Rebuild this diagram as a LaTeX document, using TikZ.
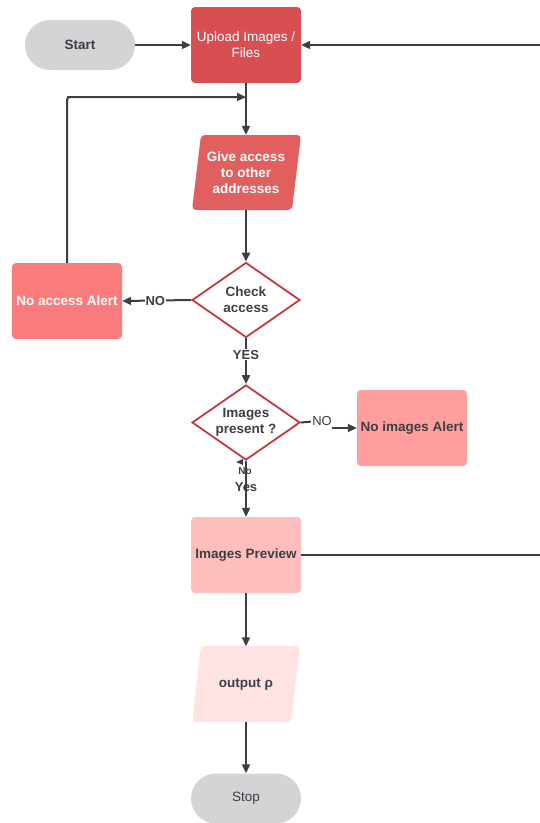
\documentclass[tikz,border=0pt]{standalone}
\usepackage{fontspec}
\setmainfont{Liberation Sans}
\usetikzlibrary{arrows.meta,shapes.geometric}
\definecolor{lnc}{HTML}{3A3E45}
\definecolor{txc}{HTML}{3C3F44}
\definecolor{grayfill}{HTML}{D3D4D6}
\definecolor{upfill}{HTML}{D84F52}
\definecolor{givefill}{HTML}{E25F60}
\definecolor{noaccfill}{HTML}{F97B7B}
\definecolor{noimgfill}{HTML}{FF9E9E}
\definecolor{prevfill}{HTML}{FFBEBE}
\definecolor{outfill}{HTML}{FFE3E3}
\definecolor{diabord}{HTML}{C23A3E}
\tikzset{
  base/.style={font=\fontsize{13.5}{16}\selectfont, align=center, inner sep=2pt},
  bfont/.style={font=\bfseries\fontsize{13.5}{16}\selectfont},
  pill/.style={base, fill=grayfill, rounded corners=25pt, minimum width=110pt, minimum height=50pt, text=txc},
  boxn/.style={base, rounded corners=4pt, minimum width=110pt, minimum height=76pt},
  para/.style={base, minimum width=100pt, minimum height=75pt},
  dia/.style={base, diamond, draw=diabord, line width=1.8pt, fill=white, minimum width=108pt, minimum height=75pt, aspect=1.44, inner sep=0pt, text=txc, bfont},
  conn/.style={draw=lnc, line width=2pt, -{Triangle[length=9pt,width=8pt]}},
  plain/.style={draw=lnc, line width=2pt},
  lbl/.style={font=\bfseries\fontsize{13}{15}\selectfont, text=txc, inner sep=1pt, fill=white},
}
\begin{document}
\begin{tikzpicture}[x=1pt,y=-1pt]
\useasboundingbox (0,0) rectangle (540,823);
% nodes
\node[pill, bfont] (start) at (80,45) {Start};
\node[boxn, fill=upfill, text=white] (upload) at (246,45) {Upload Images /\\Files};
\node[para] (give) at (246,172.5) {};
\fill[givefill, rounded corners=4pt] (201,135) -- (301,135) -- (292,210) -- (192,210) -- cycle;
\node[base, text=white, bfont] at (give) {Give access\\to other\\addresses};
\node[dia] (check) at (246,300) {Check\\access};
\node[boxn, fill=noaccfill, text=white, bfont] (noacc) at (67,301) {No access Alert};
\node[dia] (imgp) at (246,422.5) {Images\\present ?};
\node[boxn, fill=noimgfill, text=txc, bfont] (noimg) at (412,428) {No images Alert};
\node[boxn, fill=prevfill, text=txc, bfont] (prev) at (246,555) {Images Preview};
\node[para] (out) at (246,684) {};
\fill[outfill, rounded corners=4pt] (201,646) -- (300,646) -- (291,722) -- (192,722) -- cycle;
\node[base, text=txc, bfont] at (out) {output ρ};
\node[pill] (stop) at (246,798.5) {Stop};
\coordinate (rtop) at (540,45);
\coordinate (rbot) at (540,555);
\coordinate (loopc) at (246,97);
% connectors
\draw[conn] (start) -- (upload);
\draw[conn] (rtop) -- (upload.east);
\draw[conn] (upload) -- (give.north);
\draw[plain, rounded corners=3pt] (noacc.north) -- (67,97) -- ([xshift=-4pt]loopc);
\draw[conn] (67,97) -- (loopc);
\draw[conn] (give.south) -- (check.north);
\draw[conn] (check.west) -- node[lbl, pos=0.52]{NO} (noacc.east);
\draw[conn] (check.south) -- node[lbl, pos=0.36]{YES} (imgp.north);
\draw[plain] (imgp.east) -- (312,421.5);
\node[lbl, font=\fontsize{13}{15}\selectfont] (nolbl) at (322,421.5) {NO};
\draw[conn] (332,428) -- (noimg.west);
\draw[conn] (imgp.south) -- node[lbl, pos=0.46, fill=none]{Yes} (prev.north);
\node[font=\bfseries\fontsize{10}{11}\selectfont, text=txc, inner sep=0pt] (nosmall) at (245,471) {No};
\fill[lnc] (236,462) -- (243,459) -- (243,465) -- cycle;
\draw[plain] (prev.east) -- (rbot);
\draw[conn] (prev.south) -- (out.north);
\draw[conn] (out.south) -- (stop.north);
\end{tikzpicture}
\end{document}
